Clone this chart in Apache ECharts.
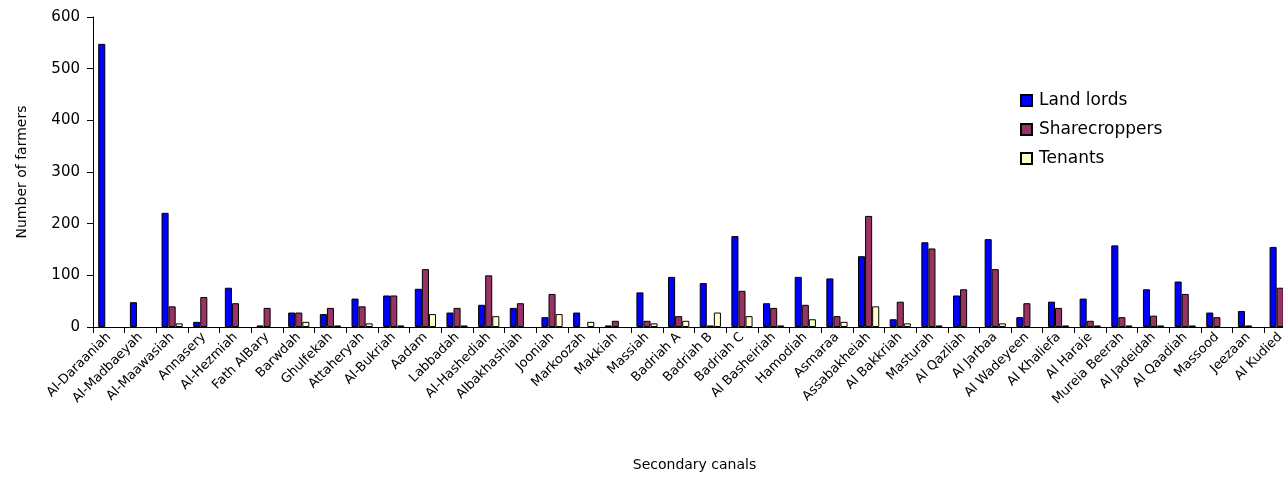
<!DOCTYPE html>
<html>
<head>
<meta charset="utf-8">
<title></title>
<script src="https://cdn.jsdelivr.net/npm/echarts@6/dist/echarts.min.js"></script>
<style>
	html, body { margin: 0; padding: 0; background: #fff; }
	#chart { width: 1283px; height: 479px; }
</style>
</head>
<body>
<div id="chart"></div>
<script>
	// canals
	var canals = ['Al-Daraaniah', 'Al-Madbaeyah', 'Al-Maawasiah', 'Annasery', 'Al-Hezmiah', 'Fath AlBary',
		'Barwdah', 'Ghulfekah', 'Attaheryah', 'Al-Bukriah', 'Aadam', 'Labbadah', 'Al-Hashediah',
		'Albakhashiah', 'Jooniah', 'Markoozah', 'Makkiah', 'Massiah', 'Badriah A', 'Badriah B',
		'Badriah C', 'Al Basheiriah', 'Hamodiah', 'Asmaraa', 'Assabakheiah', 'Al Bakkriah', 'Masturah',
		'Al Qazliah', 'Al Jarbaa', 'Al Wadeyeen', 'Al Khaliefa', 'Al Haraje', 'Mureia Beerah',
		'Al Jadeidah', 'Al Qaadiah', 'Massood', 'Jeezaan', 'Al Kudied'];

	var landLords = [548, 48, 221, 10, 76, 3, 28, 25, 55, 61, 74, 28, 43, 37, 19, 28, 3, 67, 97, 85,
		176, 46, 97, 94, 137, 15, 164, 61, 170, 19, 49, 55, 158, 73, 88, 28, 31, 155];
	var sharecroppers = [0, 0, 40, 58, 46, 37, 28, 37, 40, 61, 112, 37, 100, 46, 64, 0, 12, 12, 21, 3,
		70, 37, 43, 21, 215, 49, 152, 73, 112, 46, 37, 12, 19, 22, 64, 19, 3, 76];
	var tenants = [0, 0, 7, 0, 0, 0, 10, 3, 7, 3, 25, 3, 21, 0, 25, 10, 0, 7, 12, 28,
		21, 3, 15, 10, 40, 7, 3, 0, 7, 0, 3, 3, 3, 3, 3, 0, 0, 0];

	var yTicks = [0, 100, 200, 300, 400, 500, 600];

	var font = 'Tahoma, "DejaVu Sans", sans-serif';

	function serie(name, color, data) {
		return {
			name: name,
			type: 'bar',
			barGap: '0%',
			barCategoryGap: '33%',
			itemStyle: { color: color, borderColor: '#000', borderWidth: 1 },
			data: data.map(function (v) { return v === 0 ? null : v; })
		};
	}

	var myChart = echarts.init(document.getElementById('chart'));
	myChart.setOption({
		animation: false,
		textStyle: { fontFamily: font, color: '#000' },
		grid: {
			left: 93,
			top: 17,
			bottom: 152,
			right: -13,
			containLabel: false,
			outerBoundsMode: 'none'
		},
		legend: {
			orient: 'vertical',
			left: 1015,
			top: 87,
			itemWidth: 11,
			itemHeight: 11,
			itemGap: 12,
			icon: 'rect',
			textStyle: { fontSize: 17, color: '#000', fontFamily: font, padding: [0, 0, 0, 2] },
			data: ['Land lords', 'Sharecroppers', 'Tenants']
		},
		xAxis: {
			type: 'category',
			data: canals,
			name: 'Secondary canals',
			nameLocation: 'middle',
			nameGap: 131,
			nameTextStyle: { fontSize: 14, color: '#000' },
			axisLine: { lineStyle: { color: '#000', width: 1 } },
			axisTick: { show: true, alignWithLabel: false, length: 6, lineStyle: { color: '#000' } },
			axisLabel: { rotate: 45, interval: 0, fontSize: 13, color: '#000', margin: 8 }
		},
		yAxis: {
			type: 'value',
			min: yTicks[0],
			max: yTicks[yTicks.length - 1],
			interval: 100,
			name: 'Number of farmers',
			nameLocation: 'middle',
			nameGap: 64,
			nameTextStyle: { fontSize: 14, color: '#000' },
			axisLine: { show: true, lineStyle: { color: '#000', width: 1 } },
			axisTick: { show: true, length: 6, lineStyle: { color: '#000' } },
			axisLabel: { fontSize: 15, color: '#000', margin: 13 },
			splitLine: { show: false }
		},
		series: [
			serie('Land lords', '#0000ff', landLords),
			serie('Sharecroppers', '#993366', sharecroppers),
			serie('Tenants', '#ffffcc', tenants)
		]
	});
</script>
</body>
</html>
